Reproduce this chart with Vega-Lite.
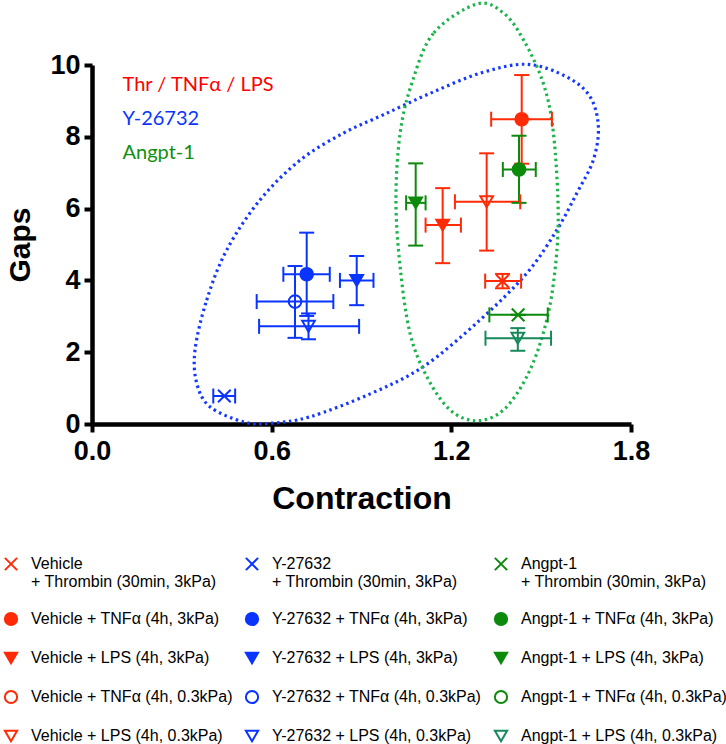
{
  "$schema": "https://vega.github.io/schema/vega-lite/v6.json",
  "width": 539,
  "height": 359,
  "autosize": {"type": "none"},
  "padding": {"left": 92, "top": 65, "right": 95, "bottom": 320},
  "background": "white",
  "config": {
    "view": {"stroke": null},
    "axis": {
      "grid": false,
      "domainColor": "black",
      "domainWidth": 4.5,
      "tickColor": "black",
      "tickWidth": 4,
      "tickSize": 8,
      "labelFlush": false,
      "labelFont": "Liberation Sans",
      "labelFontWeight": "bold",
      "labelFontSize": 27,
      "labelColor": "black",
      "titleFont": "Liberation Sans",
      "titleFontWeight": "bold",
      "titleColor": "black"
    },
    "axisX": {"titleFontSize": 32, "labelPadding": 6, "titlePadding": 19},
    "axisY": {"titleFontSize": 30, "labelPadding": 4, "titlePadding": 14}
  },
  "resolve": {"scale": {"color": "independent"}},
  "datasets": {
    "pts": [
      {"s": "Vehicle|+ Thrombin  (30min, 3kPa)", "x": 1.371, "y": 3.98, "xlo": 1.313, "xhi": 1.433, "ylo": 3.78, "yhi": 4.18},
      {"s": "Y-27632|+ Thrombin  (30min, 3kPa)", "x": 0.442, "y": 0.78, "xlo": 0.405, "xhi": 0.478, "ylo": 0.78, "yhi": 0.78},
      {"s": "Angpt-1|+ Thrombin (30min, 3kPa)", "x": 1.423, "y": 3.04, "xlo": 1.327, "xhi": 1.522, "ylo": 3.04, "yhi": 3.04},
      {"s": "Vehicle + TNFα (4h, 3kPa)", "x": 1.435, "y": 8.49, "xlo": 1.333, "xhi": 1.536, "ylo": 7.25, "yhi": 9.72},
      {"s": "Y-27632 + TNFα (4h, 3kPa)", "x": 0.717, "y": 4.17, "xlo": 0.639, "xhi": 0.794, "ylo": 3.01, "yhi": 5.33},
      {"s": "Angpt-1 + TNFα (4h, 3kPa)", "x": 1.426, "y": 7.09, "xlo": 1.372, "xhi": 1.482, "ylo": 6.16, "yhi": 8.03},
      {"s": "Vehicle + LPS (4h, 3kPa)", "x": 1.171, "y": 5.54, "xlo": 1.114, "xhi": 1.232, "ylo": 4.48, "yhi": 6.57},
      {"s": "Y-27632 + LPS (4h, 3kPa)", "x": 0.884, "y": 4.0, "xlo": 0.828, "xhi": 0.94, "ylo": 3.31, "yhi": 4.68},
      {"s": "Angpt-1 + LPS (4h, 3kPa)", "x": 1.081, "y": 6.16, "xlo": 1.049, "xhi": 1.114, "ylo": 4.97, "yhi": 7.26},
      {"s": "Y-27632 + TNFα (4h, 0.3kPa)", "x": 0.678, "y": 3.41, "xlo": 0.55, "xhi": 0.806, "ylo": 2.4, "yhi": 4.4},
      {"s": "Vehicle + LPS (4h, 0.3kPa)", "x": 1.318, "y": 6.19, "xlo": 1.212, "xhi": 1.43, "ylo": 4.83, "yhi": 7.54},
      {"s": "Y-27632 + LPS (4h, 0.3kPa)", "x": 0.723, "y": 2.72, "xlo": 0.558, "xhi": 0.892, "ylo": 2.36, "yhi": 3.08},
      {"s": "Angpt-1 + LPS (4h, 0.3kPa)", "x": 1.422, "y": 2.39, "xlo": 1.314, "xhi": 1.533, "ylo": 2.04, "yhi": 2.67}
    ],
    "ell": [
      {"e": "blue", "i": 1, "x": 0.344, "y": 2.06},
      {"e": "blue", "i": 2, "x": 0.383, "y": 3.45},
      {"e": "blue", "i": 3, "x": 0.45, "y": 4.85},
      {"e": "blue", "i": 4, "x": 0.561, "y": 6.24},
      {"e": "blue", "i": 5, "x": 0.695, "y": 7.35},
      {"e": "blue", "i": 6, "x": 0.839, "y": 8.1},
      {"e": "blue", "i": 7, "x": 0.972, "y": 8.61},
      {"e": "blue", "i": 8, "x": 1.129, "y": 9.21},
      {"e": "blue", "i": 9, "x": 1.296, "y": 9.77},
      {"e": "blue", "i": 10, "x": 1.452, "y": 10.02},
      {"e": "blue", "i": 11, "x": 1.585, "y": 9.67},
      {"e": "blue", "i": 12, "x": 1.663, "y": 9.12},
      {"e": "blue", "i": 13, "x": 1.691, "y": 8.28},
      {"e": "blue", "i": 14, "x": 1.674, "y": 7.35},
      {"e": "blue", "i": 15, "x": 1.619, "y": 6.43},
      {"e": "blue", "i": 16, "x": 1.552, "y": 5.4},
      {"e": "blue", "i": 17, "x": 1.452, "y": 4.2},
      {"e": "blue", "i": 18, "x": 1.296, "y": 2.9},
      {"e": "blue", "i": 19, "x": 1.107, "y": 1.6},
      {"e": "blue", "i": 20, "x": 0.929, "y": 0.84},
      {"e": "blue", "i": 21, "x": 0.728, "y": 0.2},
      {"e": "blue", "i": 22, "x": 0.595, "y": 0.02},
      {"e": "blue", "i": 23, "x": 0.505, "y": 0.06},
      {"e": "blue", "i": 24, "x": 0.394, "y": 0.48},
      {"e": "blue", "i": 25, "x": 0.35, "y": 1.13},
      {"e": "green", "i": 1, "x": 1.285, "y": 11.7},
      {"e": "green", "i": 2, "x": 1.14, "y": 10.88},
      {"e": "green", "i": 3, "x": 1.068, "y": 9.49},
      {"e": "green", "i": 4, "x": 1.029, "y": 8.1},
      {"e": "green", "i": 5, "x": 1.015, "y": 6.24},
      {"e": "green", "i": 6, "x": 1.029, "y": 4.38},
      {"e": "green", "i": 7, "x": 1.062, "y": 2.53},
      {"e": "green", "i": 8, "x": 1.118, "y": 1.32},
      {"e": "green", "i": 9, "x": 1.196, "y": 0.39},
      {"e": "green", "i": 10, "x": 1.285, "y": 0.09},
      {"e": "green", "i": 11, "x": 1.374, "y": 0.39},
      {"e": "green", "i": 12, "x": 1.452, "y": 1.32},
      {"e": "green", "i": 13, "x": 1.507, "y": 2.53},
      {"e": "green", "i": 14, "x": 1.541, "y": 3.92},
      {"e": "green", "i": 15, "x": 1.557, "y": 5.77},
      {"e": "green", "i": 16, "x": 1.541, "y": 8.1},
      {"e": "green", "i": 17, "x": 1.507, "y": 9.49},
      {"e": "green", "i": 18, "x": 1.441, "y": 10.7},
      {"e": "green", "i": 19, "x": 1.374, "y": 11.45}
    ],
    "ann": [
      {"t": "Thr / TNFα / LPS", "x": 0.102, "y": 9.28},
      {"t": "Y-26732", "x": 0.102, "y": 8.33},
      {"t": "Angpt-1", "x": 0.102, "y": 7.37}
    ]
  },
  "layer": [
    {
      "data": {"name": "ell"},
      "transform": [{"filter": "datum.e == 'blue'"}],
      "mark": {"type": "line", "interpolate": "cardinal-closed", "strokeDash": [2.5, 3.5], "strokeWidth": 3.2, "color": "#1538ff"},
      "encoding": {
        "x": {"field": "x", "type": "quantitative", "title": "Contraction", "scale": {"domain": [0, 1.8], "nice": false, "zero": false}, "axis": {"values": [0, 0.6, 1.2, 1.8], "format": ".1f"}},
        "y": {"field": "y", "type": "quantitative", "title": "Gaps", "scale": {"domain": [0, 10], "nice": false, "zero": false}, "axis": {"values": [0, 2, 4, 6, 8, 10], "format": "d"}},
        "order": {"field": "i", "type": "quantitative"}
      }
    },
    {
      "data": {"name": "ell"},
      "transform": [{"filter": "datum.e == 'green'"}],
      "mark": {"type": "line", "interpolate": "cardinal-closed", "strokeDash": [2.5, 3.5], "strokeWidth": 3.2, "color": "#1db34c"},
      "encoding": {
        "x": {"field": "x", "type": "quantitative", "title": "Contraction", "axis": {"values": [0, 0.6, 1.2, 1.8], "format": ".1f"}},
        "y": {"field": "y", "type": "quantitative", "title": "Gaps", "axis": {"values": [0, 2, 4, 6, 8, 10], "format": "d"}},
        "order": {"field": "i", "type": "quantitative"}
      }
    },
    {
      "data": {"name": "pts"},
      "mark": {"type": "rule", "strokeWidth": 2},
      "encoding": {
        "x": {"field": "x", "type": "quantitative", "title": "Contraction", "axis": {"values": [0, 0.6, 1.2, 1.8], "format": ".1f"}},
        "y": {"field": "ylo", "type": "quantitative", "title": "Gaps", "axis": {"values": [0, 2, 4, 6, 8, 10], "format": "d"}},
        "y2": {"field": "yhi"},
        "color": {"field": "s", "type": "nominal", "legend": null, "scale": {"domain": ["Vehicle|+ Thrombin  (30min, 3kPa)", "Y-27632|+ Thrombin  (30min, 3kPa)", "Angpt-1|+ Thrombin (30min, 3kPa)", "Vehicle + TNFα (4h, 3kPa)", "Y-27632 + TNFα (4h, 3kPa)", "Angpt-1 + TNFα (4h, 3kPa)", "Vehicle + LPS (4h, 3kPa)", "Y-27632 + LPS (4h, 3kPa)", "Angpt-1 + LPS (4h, 3kPa)", "Vehicle + TNFα (4h, 0.3kPa)", "Y-27632 + TNFα (4h, 0.3kPa)", "Angpt-1 + TNFα (4h, 0.3kPa)", "Vehicle + LPS (4h, 0.3kPa)", "Y-27632 + LPS (4h, 0.3kPa)", "Angpt-1 + LPS (4h, 0.3kPa)"], "range": ["#ff2b06", "#0a34ff", "#0c8a0c", "#ff2b06", "#0a34ff", "#0c8a0c", "#ff2b06", "#0a34ff", "#0c8a0c", "#ff2b06", "#0a34ff", "#0c8a0c", "#ff2b06", "#0a34ff", "#16895a"]}}
      }
    },
    {
      "data": {"name": "pts"},
      "mark": {"type": "rule", "strokeWidth": 2},
      "encoding": {
        "x": {"field": "xlo", "type": "quantitative", "title": "Contraction", "axis": {"values": [0, 0.6, 1.2, 1.8], "format": ".1f"}},
        "x2": {"field": "xhi"},
        "y": {"field": "y", "type": "quantitative", "title": "Gaps", "axis": {"values": [0, 2, 4, 6, 8, 10], "format": "d"}},
        "color": {"field": "s", "type": "nominal", "legend": null, "scale": {"domain": ["Vehicle|+ Thrombin  (30min, 3kPa)", "Y-27632|+ Thrombin  (30min, 3kPa)", "Angpt-1|+ Thrombin (30min, 3kPa)", "Vehicle + TNFα (4h, 3kPa)", "Y-27632 + TNFα (4h, 3kPa)", "Angpt-1 + TNFα (4h, 3kPa)", "Vehicle + LPS (4h, 3kPa)", "Y-27632 + LPS (4h, 3kPa)", "Angpt-1 + LPS (4h, 3kPa)", "Vehicle + TNFα (4h, 0.3kPa)", "Y-27632 + TNFα (4h, 0.3kPa)", "Angpt-1 + TNFα (4h, 0.3kPa)", "Vehicle + LPS (4h, 0.3kPa)", "Y-27632 + LPS (4h, 0.3kPa)", "Angpt-1 + LPS (4h, 0.3kPa)"], "range": ["#ff2b06", "#0a34ff", "#0c8a0c", "#ff2b06", "#0a34ff", "#0c8a0c", "#ff2b06", "#0a34ff", "#0c8a0c", "#ff2b06", "#0a34ff", "#0c8a0c", "#ff2b06", "#0a34ff", "#16895a"]}}
      }
    },
    {
      "data": {"name": "pts"},
      "mark": {"type": "tick", "orient": "horizontal", "size": 15, "thickness": 2, "opacity": 1},
      "encoding": {
        "x": {"field": "x", "type": "quantitative", "title": "Contraction", "axis": {"values": [0, 0.6, 1.2, 1.8], "format": ".1f"}},
        "y": {"field": "yhi", "type": "quantitative", "title": "Gaps", "axis": {"values": [0, 2, 4, 6, 8, 10], "format": "d"}},
        "color": {"field": "s", "type": "nominal", "legend": null, "scale": {"domain": ["Vehicle|+ Thrombin  (30min, 3kPa)", "Y-27632|+ Thrombin  (30min, 3kPa)", "Angpt-1|+ Thrombin (30min, 3kPa)", "Vehicle + TNFα (4h, 3kPa)", "Y-27632 + TNFα (4h, 3kPa)", "Angpt-1 + TNFα (4h, 3kPa)", "Vehicle + LPS (4h, 3kPa)", "Y-27632 + LPS (4h, 3kPa)", "Angpt-1 + LPS (4h, 3kPa)", "Vehicle + TNFα (4h, 0.3kPa)", "Y-27632 + TNFα (4h, 0.3kPa)", "Angpt-1 + TNFα (4h, 0.3kPa)", "Vehicle + LPS (4h, 0.3kPa)", "Y-27632 + LPS (4h, 0.3kPa)", "Angpt-1 + LPS (4h, 0.3kPa)"], "range": ["#ff2b06", "#0a34ff", "#0c8a0c", "#ff2b06", "#0a34ff", "#0c8a0c", "#ff2b06", "#0a34ff", "#0c8a0c", "#ff2b06", "#0a34ff", "#0c8a0c", "#ff2b06", "#0a34ff", "#16895a"]}}
      }
    },
    {
      "data": {"name": "pts"},
      "mark": {"type": "tick", "orient": "horizontal", "size": 15, "thickness": 2, "opacity": 1},
      "encoding": {
        "x": {"field": "x", "type": "quantitative", "title": "Contraction", "axis": {"values": [0, 0.6, 1.2, 1.8], "format": ".1f"}},
        "y": {"field": "ylo", "type": "quantitative", "title": "Gaps", "axis": {"values": [0, 2, 4, 6, 8, 10], "format": "d"}},
        "color": {"field": "s", "type": "nominal", "legend": null, "scale": {"domain": ["Vehicle|+ Thrombin  (30min, 3kPa)", "Y-27632|+ Thrombin  (30min, 3kPa)", "Angpt-1|+ Thrombin (30min, 3kPa)", "Vehicle + TNFα (4h, 3kPa)", "Y-27632 + TNFα (4h, 3kPa)", "Angpt-1 + TNFα (4h, 3kPa)", "Vehicle + LPS (4h, 3kPa)", "Y-27632 + LPS (4h, 3kPa)", "Angpt-1 + LPS (4h, 3kPa)", "Vehicle + TNFα (4h, 0.3kPa)", "Y-27632 + TNFα (4h, 0.3kPa)", "Angpt-1 + TNFα (4h, 0.3kPa)", "Vehicle + LPS (4h, 0.3kPa)", "Y-27632 + LPS (4h, 0.3kPa)", "Angpt-1 + LPS (4h, 0.3kPa)"], "range": ["#ff2b06", "#0a34ff", "#0c8a0c", "#ff2b06", "#0a34ff", "#0c8a0c", "#ff2b06", "#0a34ff", "#0c8a0c", "#ff2b06", "#0a34ff", "#0c8a0c", "#ff2b06", "#0a34ff", "#16895a"]}}
      }
    },
    {
      "data": {"name": "pts"},
      "mark": {"type": "tick", "orient": "vertical", "size": 15, "thickness": 2, "opacity": 1},
      "encoding": {
        "x": {"field": "xlo", "type": "quantitative", "title": "Contraction", "axis": {"values": [0, 0.6, 1.2, 1.8], "format": ".1f"}},
        "y": {"field": "y", "type": "quantitative", "title": "Gaps", "axis": {"values": [0, 2, 4, 6, 8, 10], "format": "d"}},
        "color": {"field": "s", "type": "nominal", "legend": null, "scale": {"domain": ["Vehicle|+ Thrombin  (30min, 3kPa)", "Y-27632|+ Thrombin  (30min, 3kPa)", "Angpt-1|+ Thrombin (30min, 3kPa)", "Vehicle + TNFα (4h, 3kPa)", "Y-27632 + TNFα (4h, 3kPa)", "Angpt-1 + TNFα (4h, 3kPa)", "Vehicle + LPS (4h, 3kPa)", "Y-27632 + LPS (4h, 3kPa)", "Angpt-1 + LPS (4h, 3kPa)", "Vehicle + TNFα (4h, 0.3kPa)", "Y-27632 + TNFα (4h, 0.3kPa)", "Angpt-1 + TNFα (4h, 0.3kPa)", "Vehicle + LPS (4h, 0.3kPa)", "Y-27632 + LPS (4h, 0.3kPa)", "Angpt-1 + LPS (4h, 0.3kPa)"], "range": ["#ff2b06", "#0a34ff", "#0c8a0c", "#ff2b06", "#0a34ff", "#0c8a0c", "#ff2b06", "#0a34ff", "#0c8a0c", "#ff2b06", "#0a34ff", "#0c8a0c", "#ff2b06", "#0a34ff", "#16895a"]}}
      }
    },
    {
      "data": {"name": "pts"},
      "mark": {"type": "tick", "orient": "vertical", "size": 15, "thickness": 2, "opacity": 1},
      "encoding": {
        "x": {"field": "xhi", "type": "quantitative", "title": "Contraction", "axis": {"values": [0, 0.6, 1.2, 1.8], "format": ".1f"}},
        "y": {"field": "y", "type": "quantitative", "title": "Gaps", "axis": {"values": [0, 2, 4, 6, 8, 10], "format": "d"}},
        "color": {"field": "s", "type": "nominal", "legend": null, "scale": {"domain": ["Vehicle|+ Thrombin  (30min, 3kPa)", "Y-27632|+ Thrombin  (30min, 3kPa)", "Angpt-1|+ Thrombin (30min, 3kPa)", "Vehicle + TNFα (4h, 3kPa)", "Y-27632 + TNFα (4h, 3kPa)", "Angpt-1 + TNFα (4h, 3kPa)", "Vehicle + LPS (4h, 3kPa)", "Y-27632 + LPS (4h, 3kPa)", "Angpt-1 + LPS (4h, 3kPa)", "Vehicle + TNFα (4h, 0.3kPa)", "Y-27632 + TNFα (4h, 0.3kPa)", "Angpt-1 + TNFα (4h, 0.3kPa)", "Vehicle + LPS (4h, 0.3kPa)", "Y-27632 + LPS (4h, 0.3kPa)", "Angpt-1 + LPS (4h, 0.3kPa)"], "range": ["#ff2b06", "#0a34ff", "#0c8a0c", "#ff2b06", "#0a34ff", "#0c8a0c", "#ff2b06", "#0a34ff", "#0c8a0c", "#ff2b06", "#0a34ff", "#0c8a0c", "#ff2b06", "#0a34ff", "#16895a"]}}
      }
    },
    {
      "data": {"name": "pts"},
      "mark": {"type": "point", "size": 160, "strokeWidth": 2, "opacity": 1},
      "encoding": {
        "x": {"field": "x", "type": "quantitative", "title": "Contraction", "axis": {"values": [0, 0.6, 1.2, 1.8], "format": ".1f"}},
        "y": {"field": "y", "type": "quantitative", "title": "Gaps", "axis": {"values": [0, 2, 4, 6, 8, 10], "format": "d"}},
        "shape": {"field": "s", "type": "nominal",
          "scale": {"domain": ["Vehicle|+ Thrombin  (30min, 3kPa)", "Y-27632|+ Thrombin  (30min, 3kPa)", "Angpt-1|+ Thrombin (30min, 3kPa)", "Vehicle + TNFα (4h, 3kPa)", "Y-27632 + TNFα (4h, 3kPa)", "Angpt-1 + TNFα (4h, 3kPa)", "Vehicle + LPS (4h, 3kPa)", "Y-27632 + LPS (4h, 3kPa)", "Angpt-1 + LPS (4h, 3kPa)", "Vehicle + TNFα (4h, 0.3kPa)", "Y-27632 + TNFα (4h, 0.3kPa)", "Angpt-1 + TNFα (4h, 0.3kPa)", "Vehicle + LPS (4h, 0.3kPa)", "Y-27632 + LPS (4h, 0.3kPa)", "Angpt-1 + LPS (4h, 0.3kPa)"],
            "range": ["M-1,-1L1,1M1,-1L-1,1", "M-1,-1L1,1M1,-1L-1,1", "M-1,-1L1,1M1,-1L-1,1", "circle", "circle", "circle", "triangle-down", "triangle-down", "triangle-down", "circle", "circle", "circle", "triangle-down", "triangle-down", "triangle-down"]},
          "legend": {"title": null, "orient": "none", "legendX": -89, "legendY": 491, "columns": 3, "direction": "horizontal", "labelFont": "Liberation Sans", "labelFontSize": 16, "labelColor": "black", "labelOffset": 12, "labelLimit": 400, "symbolSize": 150, "symbolStrokeWidth": 2, "symbolOpacity": 1, "columnPadding": 8, "rowPadding": 18, "labelExpr": "split(datum.label, '|')"}},
        "stroke": {"field": "s", "type": "nominal",
          "scale": {"domain": ["Vehicle|+ Thrombin  (30min, 3kPa)", "Y-27632|+ Thrombin  (30min, 3kPa)", "Angpt-1|+ Thrombin (30min, 3kPa)", "Vehicle + TNFα (4h, 3kPa)", "Y-27632 + TNFα (4h, 3kPa)", "Angpt-1 + TNFα (4h, 3kPa)", "Vehicle + LPS (4h, 3kPa)", "Y-27632 + LPS (4h, 3kPa)", "Angpt-1 + LPS (4h, 3kPa)", "Vehicle + TNFα (4h, 0.3kPa)", "Y-27632 + TNFα (4h, 0.3kPa)", "Angpt-1 + TNFα (4h, 0.3kPa)", "Vehicle + LPS (4h, 0.3kPa)", "Y-27632 + LPS (4h, 0.3kPa)", "Angpt-1 + LPS (4h, 0.3kPa)"],
            "range": ["#ff2b06", "#0a34ff", "#0c8a0c", "#ff2b06", "#0a34ff", "#0c8a0c", "#ff2b06", "#0a34ff", "#0c8a0c", "#ff2b06", "#0a34ff", "#0c8a0c", "#ff2b06", "#0a34ff", "#16895a"]}},
        "fill": {"field": "s", "type": "nominal",
          "scale": {"domain": ["Vehicle|+ Thrombin  (30min, 3kPa)", "Y-27632|+ Thrombin  (30min, 3kPa)", "Angpt-1|+ Thrombin (30min, 3kPa)", "Vehicle + TNFα (4h, 3kPa)", "Y-27632 + TNFα (4h, 3kPa)", "Angpt-1 + TNFα (4h, 3kPa)", "Vehicle + LPS (4h, 3kPa)", "Y-27632 + LPS (4h, 3kPa)", "Angpt-1 + LPS (4h, 3kPa)", "Vehicle + TNFα (4h, 0.3kPa)", "Y-27632 + TNFα (4h, 0.3kPa)", "Angpt-1 + TNFα (4h, 0.3kPa)", "Vehicle + LPS (4h, 0.3kPa)", "Y-27632 + LPS (4h, 0.3kPa)", "Angpt-1 + LPS (4h, 0.3kPa)"],
            "range": ["transparent", "transparent", "transparent", "#ff2b06", "#0a34ff", "#0c8a0c", "#ff2b06", "#0a34ff", "#0c8a0c", "transparent", "transparent", "transparent", "transparent", "transparent", "transparent"]}}
      }
    },
    {
      "data": {"name": "ann"},
      "mark": {"type": "text", "align": "left", "baseline": "alphabetic", "font": "Lato", "fontSize": 20},
      "encoding": {
        "x": {"field": "x", "type": "quantitative", "title": "Contraction", "axis": {"values": [0, 0.6, 1.2, 1.8], "format": ".1f"}},
        "y": {"field": "y", "type": "quantitative", "title": "Gaps", "axis": {"values": [0, 2, 4, 6, 8, 10], "format": "d"}},
        "text": {"field": "t"},
        "color": {"field": "t", "type": "nominal", "legend": null, "scale": {"domain": ["Thr / TNFα / LPS", "Y-26732", "Angpt-1"], "range": ["#ff0000", "#0a34ff", "#0f8f0f"]}}
      }
    }
  ]
}
